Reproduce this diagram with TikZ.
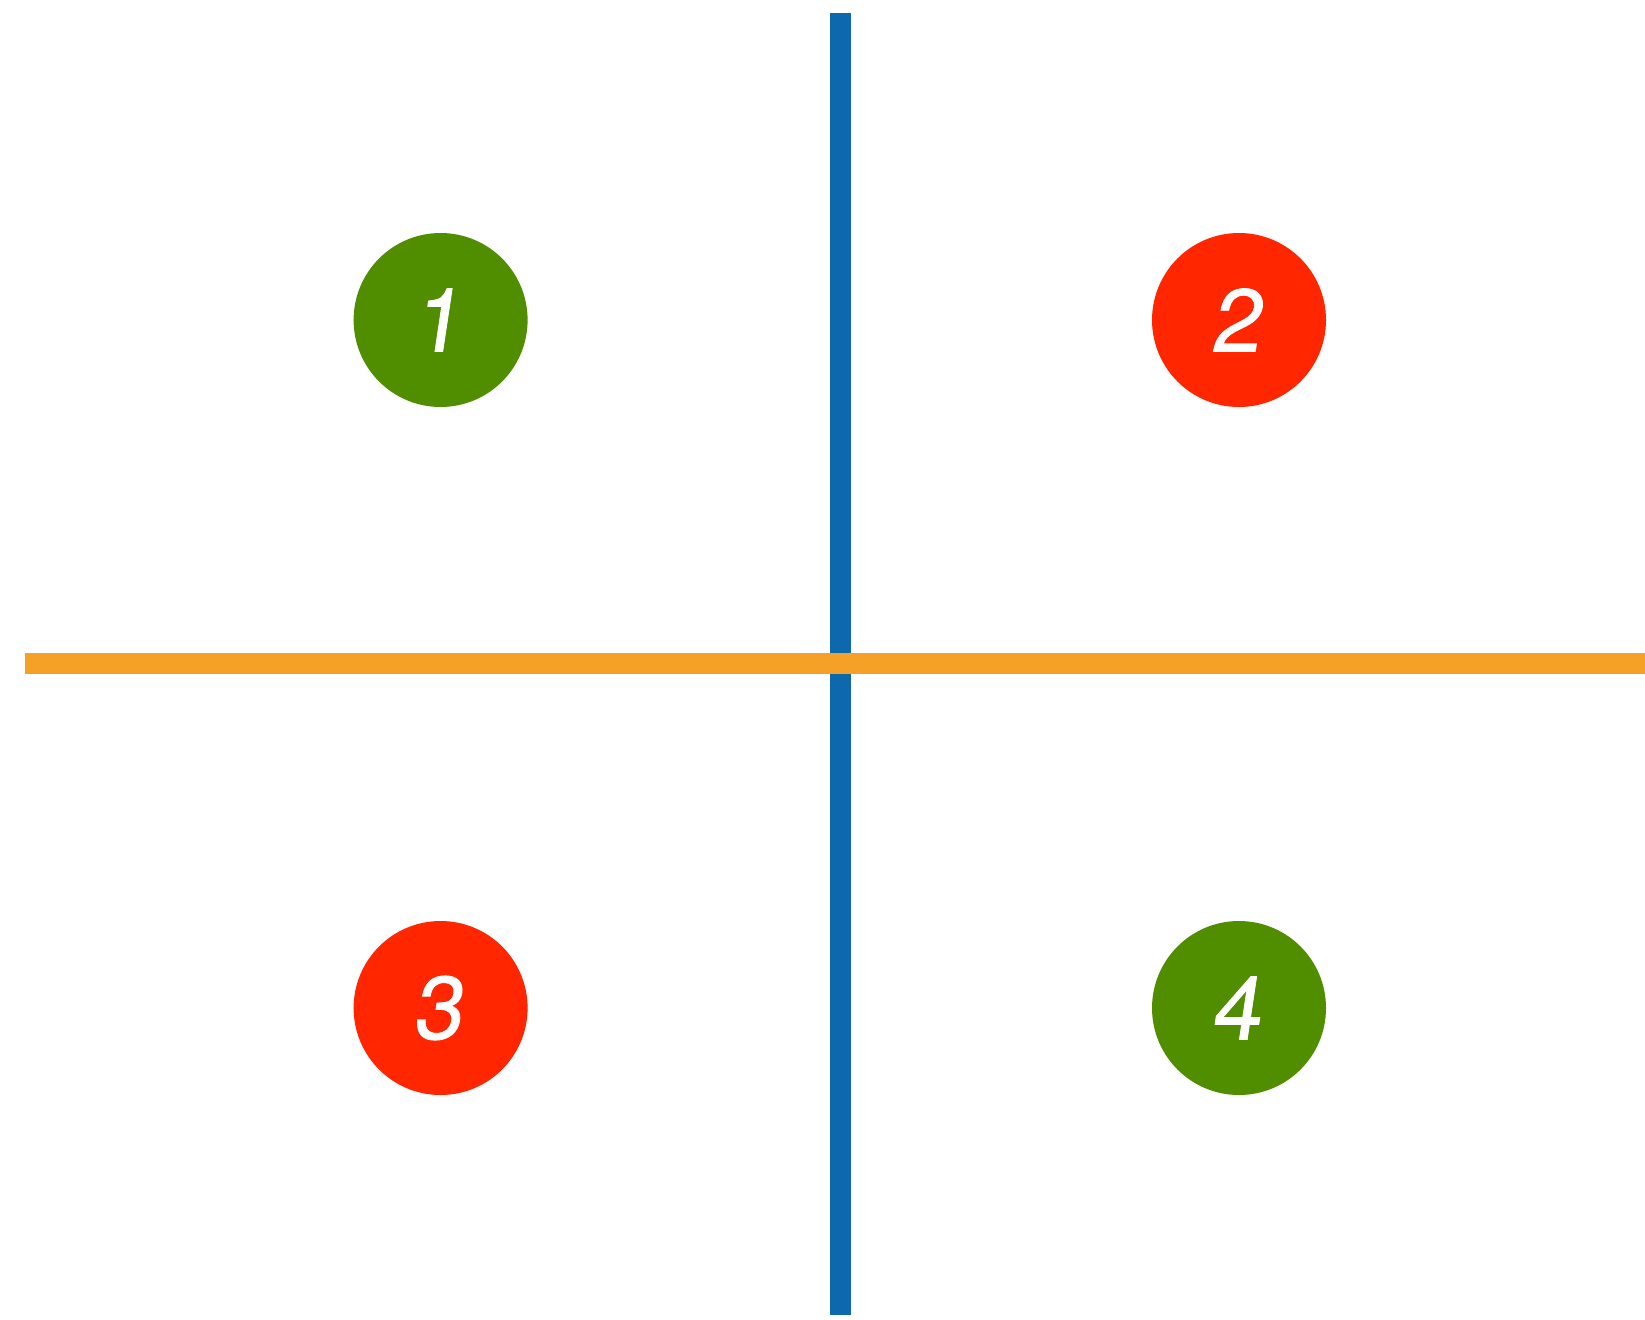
\documentclass[tikz,border=0pt]{standalone}
\usepackage{fontspec}
\setmainfont{Liberation Sans}
\newfontfamily\digitfont{TeX Gyre Heros}[FakeSlant=0.15,FakeBold=0.8]
\usepackage{xcolor}
\definecolor{axisblue}{RGB}{13,104,174}
\definecolor{axisorange}{RGB}{245,160,39}
\definecolor{goodgreen}{RGB}{80,142,0}
\definecolor{badred}{RGB}{255,38,0}

\begin{document}
\begin{tikzpicture}[x=1pt,y=-1pt,line cap=butt,
  quad/.style={circle,minimum size=174pt,inner sep=0pt,text=white,
    font=\digitfont\fontsize{89}{89}\selectfont}]
  \useasboundingbox (0,0) rectangle (1645,1319);
  \coordinate (T) at (840.5,12.6);
  \coordinate (B) at (840.5,1314.5);
  \coordinate (L) at (25.2,663.6);
  \coordinate (R) at (1645,663.6);
  \draw[axisblue,line width=21pt] (T)--(B);
  \draw[axisorange,line width=21pt] (L)--(R);
  \node[quad,fill=goodgreen] (q1) at (440.6,320) {\raisebox{-2pt}{\kern-4pt 1\kern4pt}};
  \node[quad,fill=badred] (q2) at (1239,320) {\raisebox{-2pt}{\kern-4pt 2\kern4pt}};
  \node[quad,fill=badred] (q3) at (440.6,1008) {\raisebox{-2pt}{\kern-4pt 3\kern4pt}};
  \node[quad,fill=goodgreen] (q4) at (1239,1008) {\raisebox{-2pt}{\kern-4pt 4\kern4pt}};
\end{tikzpicture}
\end{document}
